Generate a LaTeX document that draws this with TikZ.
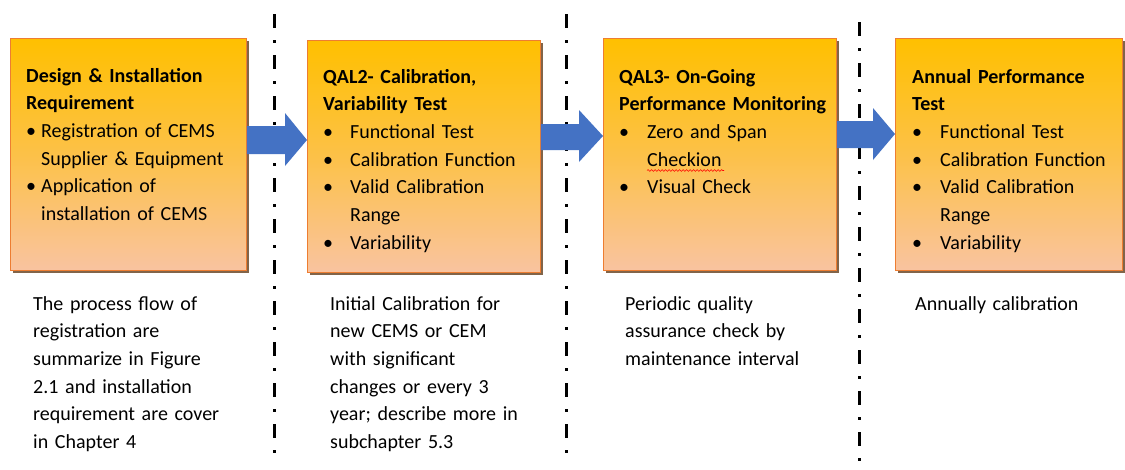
\documentclass[tikz,border=0pt]{standalone}
\usepackage{fontspec}
\setmainfont{Carlito}
\usetikzlibrary{shadows,decorations.pathmorphing}
\definecolor{boxtop}{HTML}{FFC000}
\definecolor{boxbot}{HTML}{F9C3A0}
\definecolor{boxedge}{HTML}{ED7D31}
\definecolor{arrowblue}{HTML}{4472C4}
\definecolor{shadowc}{HTML}{6B4A2A}
\newcommand{\bfs}{\fontsize{20}{27.7}\selectfont}
\newcommand{\bul}[1]{\makebox[#1][l]{\textbullet}}
\begin{document}
\begin{tikzpicture}[x=1pt,y=-1pt,
  stagebox/.style={draw=boxedge, line width=0.8pt, top color=boxtop, bottom color=boxbot,
    middle color=boxtop!55!boxbot,
    minimum width=236pt, minimum height=232pt, anchor=north west, inner sep=0pt,
    drop shadow={shadow xshift=2.5pt, shadow yshift=-2.5pt, fill=shadowc, opacity=0.85}},
  boxtext/.style={anchor=north west, inner sep=0pt, text width=230pt, align=left, font=\bfs},
  notetext/.style={anchor=north west, inner sep=0pt, text width=260pt, align=left, font=\bfs},
  flowarrow/.style={fill=arrowblue},
  divider/.style={line width=3pt, dash pattern=on 14pt off 12pt on 3pt off 12pt}
]
\useasboundingbox (0,0) rectangle (1125,469);
\fill[white] (0,0) rectangle (1125,469);

% dividers
\coordinate (d1t) at (274,14); \coordinate (d1b) at (274,462);
\coordinate (d2t) at (566,14); \coordinate (d2b) at (566,462);
\coordinate (d3t) at (859,22); \coordinate (d3b) at (859,462);
\draw[divider] (d1t) -- (d1b);
\draw[divider] (d2t) -- (d2b);
\draw[divider] (d3t) -- (d3b);

% boxes
\node[stagebox] (b1) at (10,38) {};
\node[stagebox, minimum width=233pt] (b2) at (307,40) {};
\node[stagebox, minimum width=233pt] (b3) at (603,38) {};
\node[stagebox, minimum width=227pt] (b4) at (895,38) {};

% arrows
\fill[flowarrow] (b1.east |- 0,126) -- (285,126) -- (285,113) -- (b2.west |- 0,140)
  -- (285,166) -- (285,154) -- (b1.east |- 0,154) -- cycle;
\fill[flowarrow] (b2.east |- 0,124) -- (579,124) -- (579,110) -- (b3.west |- 0,136)
  -- (579,162) -- (579,150) -- (b2.east |- 0,150) -- cycle;
\fill[flowarrow] (b3.east |- 0,121) -- (873,121) -- (873,108) -- (b4.west |- 0,134)
  -- (873,160) -- (873,148) -- (b3.east |- 0,148) -- cycle;

% box texts
\node[boxtext] (t1) at (26,62.6) {\strut\textbf{Design \& Installation}\\
  \textbf{Requirement}\\
  \bul{15pt}Registration of CEMS\\
  \hspace*{15pt}Supplier \& Equipment\\
  \bul{15pt}Application of\\
  \hspace*{15pt}installation of CEMS};
\node[boxtext] (t2) at (323,63.6) {\strut\textbf{QAL2- Calibration,}\\
  \textbf{Variability Test}\\
  \bul{27pt}Functional Test\\
  \bul{27pt}Calibration Function\\
  \bul{27pt}Valid Calibration\\
  \hspace*{27pt}Range\\
  \bul{27pt}Variability};
\node[boxtext] (t3) at (619,63.6) {\strut\textbf{QAL3- On-Going}\\
  \textbf{Performance Monitoring}\\
  \bul{28pt}Zero and Span\\
  \hspace*{28pt}Checkion\\
  \bul{28pt}Visual Check};
\node[boxtext] (t4) at (912,63.6) {\strut\textbf{Annual Performance}\\
  \textbf{Test}\\
  \bul{28pt}Functional Test\\
  \bul{28pt}Calibration Function\\
  \bul{28pt}Valid Calibration\\
  \hspace*{28pt}Range\\
  \bul{28pt}Variability};

% spell-check underline
\coordinate (w1) at (647,170.5); \coordinate (w2) at (724,170.5);
\draw[red, line width=0.6pt, decorate, decoration={snake, amplitude=0.9pt, segment length=3.5pt}] (w1) -- (w2);

% notes
\node[notetext] (n1) at (33,290.6) {\strut The process flow of\\
  registration are\\
  summarize in Figure\\
  2.1 and installation\\
  requirement are cover\\
  in Chapter 4};
\node[notetext] (n2) at (330,290.6) {\strut Initial Calibration for\\
  new CEMS or CEM\\
  with significant\\
  changes or every 3\\
  year; describe more in\\
  subchapter 5.3};
\node[notetext] (n3) at (625,290.6) {\strut Periodic quality\\
  assurance check by\\
  maintenance interval};
\node[notetext] (n4) at (915,290.6) {\strut Annually calibration};
\end{tikzpicture}
\end{document}
